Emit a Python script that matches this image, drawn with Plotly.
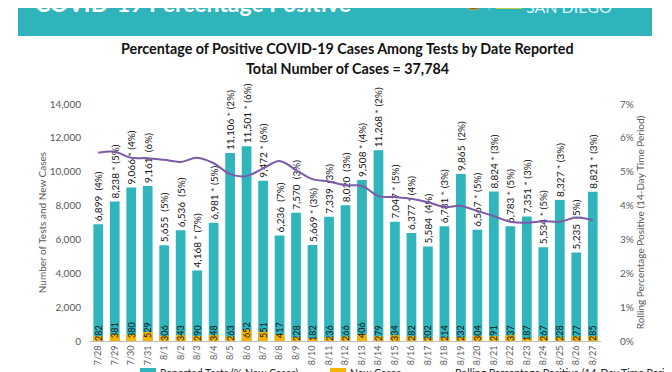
import plotly.graph_objects as go

dates = ["7/28", "7/29", "7/30", "7/31", "8/1", "8/2", "8/3", "8/4", "8/5", "8/6", "8/7",
         "8/8", "8/9", "8/10", "8/11", "8/12", "8/13", "8/14", "8/15", "8/16", "8/17",
         "8/18", "8/19", "8/20", "8/21", "8/22", "8/23", "8/24", "8/25", "8/26", "8/27"]
tests = [6899, 8238, 9066, 9161, 5655, 6536, 4168, 6981, 11106, 11501, 9472,
         6236, 7570, 5669, 7339, 8020, 9508, 11268, 7047, 6377, 5584,
         6781, 9865, 6567, 8824, 6783, 7351, 5534, 8327, 5235, 8821]
new_cases = [282, 381, 380, 529, 306, 343, 290, 348, 263, 652, 551,
             417, 228, 182, 236, 266, 406, 279, 334, 282, 202,
             214, 232, 304, 291, 337, 187, 267, 228, 277, 285]
pct_positive = [4, 5, 4, 6, 5, 5, 7, 5, 2, 6, 6,
                7, 3, 3, 3, 3, 4, 2, 5, 4, 4,
                3, 2, 5, 3, 5, 3, 5, 3, 5, 3]
asterisk = [0, 1, 1, 0, 0, 0, 1, 1, 1, 1, 1,
            0, 0, 1, 0, 0, 1, 1, 1, 1, 0,
            1, 0, 1, 1, 1, 1, 1, 1, 0, 1]
rolling = [5.56, 5.59, 5.41, 5.40, 5.35, 5.29, 5.41, 5.25, 4.93, 4.87, 5.10,
           5.32, 5.05, 4.78, 4.71, 4.60, 4.58, 4.28, 4.25, 4.20, 4.10,
           3.96, 3.99, 3.84, 3.69, 3.52, 3.49, 3.54, 3.52, 3.65, 3.57]
series_names = ["Reported Tests (% New Cases)", "New Cases",
                "Rolling Percentage Positive (14-Day Time Period)"]

TEAL = "#31B5BD"
YELLOW = "#F4B400"
PURPLE = "#7C5AA8"
GREY = "#595959"
FONT = "Lato"

bar_text = [f"{t:,}{' * ' if a else '  '}({p}%)" for t, a, p in zip(tests, asterisk, pct_positive)]

fig = go.Figure()
fig.add_trace(go.Bar(
    x=dates, y=tests, name=series_names[0],
    marker_color=TEAL, marker_line_width=0,
    text=bar_text, textposition="outside", textangle=-90,
    constraintext="none", cliponaxis=False,
    textfont=dict(family=FONT, size=10, color="#111111"),
))
fig.add_trace(go.Bar(
    x=dates, y=new_cases, name=series_names[1],
    marker_color=YELLOW, marker_line_width=0,
    text=[str(v) for v in new_cases], textposition="inside", insidetextanchor="start",
    textangle=-90, constraintext="none",
    textfont=dict(family=FONT, size=9, color="#111111"),
))
fig.add_trace(go.Scatter(
    x=dates, y=rolling, name=series_names[2],
    mode="lines", line=dict(color=PURPLE, width=2, shape="spline"),
    yaxis="y2",
))

# page body has an 8px margin; screen coords = figure coords + 8
OFF = 8
# plot area on screen: x 90..601, y 104..341
S_TOP, H_PLOT = 104, 237
S_L, W_PLOT = 90, 511
M_T = S_TOP - OFF
M_L = S_L - OFF
W, H = 672, 372


def sx(px):
    return (px - S_L) / W_PLOT


def sy(py):
    return 1 + (S_TOP - py) / H_PLOT


fig.update_layout(
    width=W, height=H,
    margin=dict(l=M_L, r=W - M_L - W_PLOT, t=M_T, b=H - M_T - H_PLOT, autoexpand=False),
    paper_bgcolor="white", plot_bgcolor="white",
    barmode="overlay", bargap=0.41,
    font=dict(family=FONT, color=GREY),
    showlegend=False,
    xaxis=dict(
        type="category", tickangle=-90, tickfont=dict(family=FONT, size=9, color=GREY),
        showgrid=False, showline=True, linecolor="#BFBFBF", linewidth=1, ticks="",
        range=[-0.5, 30.5],
    ),
    yaxis=dict(
        range=[0, 14000], dtick=2000, tickformat=",", showgrid=False, zeroline=False,
        tickfont=dict(family=FONT, size=10, color=GREY), ticklabelstandoff=8,
        title=dict(text="Number of Tests and New Cases", font=dict(family=FONT, size=10, color=GREY),
                   standoff=1),
    ),
    yaxis2=dict(
        range=[0, 7], dtick=1, ticksuffix="%", overlaying="y", side="right",
        showgrid=False, zeroline=False, tickfont=dict(family=FONT, size=10, color=GREY),
        ticklabelstandoff=18,
        title=dict(text="Rolling Percentage Positive (14-Day Time Period)",
                   font=dict(family=FONT, size=10, color=GREY), standoff=0),
    ),
)

# header banner
fig.add_shape(type="rect", xref="paper", yref="paper",
              x0=sx(18), x1=sx(652), y0=sy(36), y1=sy(-20),
              fillcolor="#2FB4BC", line_width=0, layer="below")
fig.add_annotation(xref="paper", yref="paper", x=sx(33), y=sy(19),
                   xanchor="left", yanchor="bottom", showarrow=False,
                   text="<b>COVID-19 Percentage Positive</b>",
                   font=dict(family=FONT, size=23, color="white"))
fig.add_annotation(xref="paper", yref="paper", x=sx(524), y=sy(18),
                   xanchor="left", yanchor="bottom", showarrow=False,
                   text="SAN DIEGO", font=dict(family=FONT, size=16, color="#DDF2F3"))
fig.add_shape(type="circle", xref="paper", yref="paper",
              x0=sx(465), x1=sx(482), y0=sy(10), y1=sy(-6),
              fillcolor="#8A6A2A", line=dict(color="#C9A34A", width=1))
fig.add_shape(type="line", xref="paper", yref="paper",
              x0=sx(489), x1=sx(489), y0=sy(10), y1=sy(0),
              line=dict(color="#9ED8DC", width=1))
fig.add_shape(type="rect", xref="paper", yref="paper",
              x0=sx(496), x1=sx(522), y0=sy(9), y1=sy(0),
              fillcolor="#B8D24A", line_width=0)

# chart titles
fig.add_annotation(xref="paper", yref="paper", x=sx(347), y=sy(48),
                   xanchor="center", yanchor="middle", showarrow=False,
                   text="<b>Percentage of Positive COVID-19 Cases Among Tests by Date Reported</b>",
                   font=dict(family=FONT, size=14.3, color="#111111"))
fig.add_annotation(xref="paper", yref="paper", x=sx(347), y=sy(68),
                   xanchor="center", yanchor="middle", showarrow=False,
                   text="<b>Total Number of Cases = 37,784</b>",
                   font=dict(family=FONT, size=14.3, color="#111111"))

# legend (drawn by hand at the bottom edge, mostly cut off like the reference)
LEG_Y = 373
fig.add_shape(type="rect", xref="paper", yref="paper",
              x0=sx(140), x1=sx(156), y0=sy(LEG_Y + 6), y1=sy(LEG_Y - 5),
              fillcolor=TEAL, line_width=0)
fig.add_annotation(xref="paper", yref="paper", x=sx(158), y=sy(LEG_Y),
                   xanchor="left", yanchor="middle", showarrow=False,
                   text=series_names[0], font=dict(family=FONT, size=10.5, color="#222222"))
fig.add_shape(type="rect", xref="paper", yref="paper",
              x0=sx(330), x1=sx(346), y0=sy(LEG_Y + 6), y1=sy(LEG_Y - 5),
              fillcolor=YELLOW, line_width=0)
fig.add_annotation(xref="paper", yref="paper", x=sx(348), y=sy(LEG_Y),
                   xanchor="left", yanchor="middle", showarrow=False,
                   text=series_names[1], font=dict(family=FONT, size=10.5, color="#222222"))
fig.add_shape(type="line", xref="paper", yref="paper",
              x0=sx(420), x1=sx(448), y0=sy(LEG_Y + 1), y1=sy(LEG_Y + 1),
              line=dict(color=PURPLE, width=2))
fig.add_annotation(xref="paper", yref="paper", x=sx(453), y=sy(LEG_Y),
                   xanchor="left", yanchor="middle", showarrow=False,
                   text=series_names[2], font=dict(family=FONT, size=10.5, color="#222222"))

fig.write_html("out.html")
